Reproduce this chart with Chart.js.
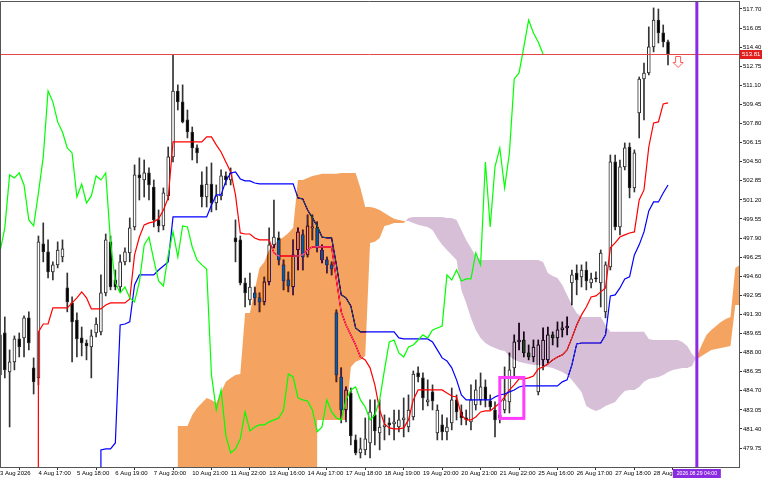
<!DOCTYPE html>
<html>
<head>
<meta charset="utf-8">
<script src="https://cdn.jsdelivr.net/npm/chart.js@4.4.1/dist/chart.umd.min.js"></script>
<style>
  html, body { margin: 0; padding: 0; background: #fff; }
  #wrap { width: 768px; height: 480px; }
</style>
</head>
<body>
<div id="wrap"><canvas id="chart" width="768" height="480"></canvas></div>
<script>
// H3 candles, bar index 0 = 3 Aug 2026
const open = [
  489.53, 489.70, 486.33, 487.20, 489.18, 489.27, 491.00, 486.68, 485.81, 497.39,
  496.70, 494.97, 495.58, 496.26, 493.59, 492.29, 490.82, 489.27, 488.83, 488.48,
  489.70, 489.79, 493.16, 497.57, 494.28, 493.67, 495.84, 496.61, 498.86, 503.36,
  502.92, 503.53, 502.31, 499.47, 498.95, 501.54, 504.91, 510.61, 509.67, 508.11,
  507.07, 505.69, 502.49, 501.45, 502.57, 500.93, 501.54, 503.27, 502.92, 497.91,
  497.74, 494.02, 492.55, 493.16, 492.73, 492.38, 494.11, 497.31, 497.91, 495.58,
  494.28, 493.67, 496.87, 498.17, 496.44, 498.78, 498.78, 496.87, 496.01, 495.58,
  491.43, 485.89, 483.04, 484.51, 480.45, 479.33, 479.59, 480.19, 482.61, 481.06,
  481.57, 481.92, 481.83, 481.57, 482.18, 481.57, 482.44, 486.24, 485.81, 483.74,
  484.60, 481.06, 481.75, 481.15, 481.92, 483.91, 482.87, 482.35, 482.01, 483.48,
  483.91, 485.03, 483.82, 483.04, 482.35, 483.04, 483.74, 486.68, 488.92, 489.09,
  487.97, 487.62, 484.60, 487.37, 487.37, 489.53, 489.27, 489.96, 490.13, 494.02,
  494.88, 494.53, 495.14, 494.02, 494.45, 494.02, 491.52, 495.40, 504.48, 498.86,
  504.05, 505.77, 502.23, 508.71, 511.65, 512.17, 514.42, 516.75, 515.63, 514.85
];
const high = [
  490.65, 491.08, 488.23, 489.44, 489.70, 491.17, 491.52, 487.54, 498.08, 499.21,
  497.74, 495.84, 497.57, 497.74, 494.88, 492.81, 491.43, 490.21, 489.09, 489.96,
  491.00, 494.71, 498.25, 498.08, 495.14, 496.44, 497.05, 499.64, 504.22, 504.83,
  504.65, 503.96, 502.92, 500.33, 502.23, 505.77, 513.73, 511.14, 511.14, 508.97,
  507.50, 505.95, 503.62, 504.05, 504.39, 502.49, 503.79, 503.62, 503.96, 499.47,
  498.08, 494.45, 494.88, 493.67, 493.16, 494.53, 498.78, 501.19, 498.43, 496.01,
  494.97, 497.74, 498.78, 498.60, 499.90, 499.90, 499.30, 497.31, 496.26, 495.84,
  491.69, 486.68, 485.03, 484.94, 480.88, 480.62, 482.35, 483.91, 483.91, 483.91,
  482.61, 482.35, 483.04, 483.04, 484.08, 484.34, 486.41, 486.76, 486.24, 485.64,
  485.21, 483.48, 482.61, 482.35, 484.94, 484.34, 483.48, 483.04, 485.21, 485.64,
  486.24, 485.64, 484.34, 483.74, 483.22, 486.76, 487.97, 489.53, 490.56, 489.79,
  488.66, 489.09, 489.09, 490.13, 490.21, 489.79, 490.65, 490.65, 491.08, 495.14,
  495.58, 495.58, 495.84, 494.88, 494.97, 496.87, 495.84, 505.08, 505.08, 504.65,
  506.12, 506.12, 505.52, 511.82, 513.03, 516.15, 517.79, 517.70, 516.32, 515.02
];
const low = [
  484.16, 485.81, 481.57, 486.50, 487.62, 487.62, 488.23, 484.42, 485.21, 495.84,
  494.45, 494.28, 495.32, 495.84, 491.52, 487.20, 487.62, 487.71, 487.37, 485.81,
  489.35, 489.53, 492.90, 493.42, 493.42, 493.25, 495.58, 495.84, 498.60, 501.19,
  501.45, 501.19, 498.86, 498.43, 498.60, 501.19, 504.48, 508.97, 507.85, 506.55,
  504.65, 504.39, 500.58, 500.58, 500.16, 500.33, 501.19, 502.49, 502.49, 495.84,
  493.85, 491.94, 492.12, 492.12, 491.52, 492.12, 493.85, 497.05, 495.58, 493.42,
  493.25, 492.99, 495.14, 495.14, 496.26, 497.74, 496.70, 495.75, 494.88, 494.71,
  485.47, 481.92, 482.01, 480.02, 479.16, 478.89, 479.16, 478.89, 480.02, 479.59,
  480.45, 480.88, 480.45, 481.15, 480.71, 481.15, 482.18, 485.47, 483.04, 483.39,
  483.04, 480.45, 480.45, 480.45, 481.32, 482.18, 481.75, 481.75, 481.32, 483.04,
  483.48, 483.30, 483.04, 480.71, 481.92, 482.78, 482.78, 485.89, 488.23, 487.62,
  487.37, 487.20, 484.34, 486.50, 487.11, 488.66, 488.48, 489.35, 489.53, 492.12,
  492.99, 493.67, 493.42, 493.59, 494.11, 491.94, 491.00, 495.14, 498.60, 498.17,
  503.79, 501.37, 501.88, 506.55, 508.11, 512.00, 513.99, 514.76, 514.42, 512.86
];
const close = [
  486.07, 486.50, 487.20, 489.18, 488.48, 491.00, 488.83, 485.47, 497.57, 496.70,
  494.97, 495.58, 496.87, 496.96, 492.38, 490.65, 489.18, 488.83, 488.57, 489.44,
  490.47, 493.16, 497.74, 493.67, 493.67, 495.84, 496.70, 498.78, 503.36, 503.10,
  503.53, 502.49, 499.47, 498.95, 501.80, 504.91, 510.61, 509.67, 507.94, 507.07,
  505.69, 505.26, 501.45, 502.57, 500.93, 501.54, 503.27, 502.92, 503.53, 497.57,
  494.02, 493.16, 493.67, 492.73, 492.38, 494.11, 497.31, 497.99, 496.01, 494.19,
  493.76, 496.44, 498.43, 496.26, 498.95, 498.86, 497.13, 496.01, 495.58, 495.23,
  486.07, 483.04, 484.77, 480.80, 479.33, 479.68, 480.54, 482.87, 481.23, 481.57,
  481.75, 481.75, 482.01, 482.18, 482.35, 483.04, 486.15, 485.89, 484.08, 483.91,
  483.82, 483.04, 481.15, 481.57, 483.91, 482.87, 482.35, 482.18, 483.91, 484.77,
  485.03, 483.91, 483.30, 482.18, 482.61, 483.91, 486.50, 488.92, 489.09, 487.97,
  487.62, 488.48, 488.66, 489.09, 489.53, 489.27, 489.96, 490.13, 490.30, 494.71,
  494.28, 495.14, 494.19, 494.37, 494.37, 496.61, 495.58, 504.48, 498.86, 504.05,
  505.69, 502.23, 505.26, 511.65, 512.17, 514.42, 516.75, 515.63, 514.85, 513.81
];

// Ichimoku lines (0 = indicator not formed yet)
const tenkanStart = 7;
const tenkan = [
  0, 489.79, 490.47, 490.47, 491.86, 491.86, 491.86, 491.86, 492.29, 492.73,
  493.25, 492.73, 491.78, 491.78, 491.78, 492.12, 492.29, 492.29, 492.29, 492.29,
  492.64, 496.44, 497.99, 499.04, 499.21, 499.30, 499.56, 500.33, 501.37, 506.21,
  506.21, 506.21, 506.21, 506.21, 506.21, 506.21, 506.64, 506.64, 505.95, 505.34,
  504.48, 503.62, 501.63, 498.34, 498.25, 498.25, 497.91, 497.74, 497.74, 497.74,
  496.61, 496.35, 496.35, 496.35, 496.35, 496.35, 496.44, 496.87, 497.13, 497.13,
  497.13, 497.13, 497.13, 494.28, 491.52, 490.39, 489.53, 488.66, 487.62, 487.37,
  486.68, 485.21, 483.04, 481.83, 481.49, 481.40, 481.40, 481.49, 482.18, 483.91,
  484.77, 484.77, 484.77, 484.77, 484.77, 484.77, 484.51, 484.25, 484.16, 482.61,
  482.18, 482.18, 482.44, 482.87, 482.96, 482.96, 483.30, 483.65, 484.16, 484.77,
  485.21, 485.72, 485.72, 485.81, 485.98, 486.59, 486.76, 487.02, 487.37, 487.62,
  487.80, 488.23, 489.27, 490.39, 491.26, 491.94, 492.81, 492.90, 493.25, 493.59,
  497.05, 497.48, 497.99, 498.17, 498.34, 498.43, 501.19, 502.06, 505.77, 507.85,
  507.94, 509.49, 509.58
];
const kijunStart = 20;
const kijun = [
  0, 479.59, 479.68, 479.68, 480.19, 490.39, 490.47, 490.65, 493.85, 494.71,
  494.71, 494.71, 494.71, 495.14, 495.49, 495.84, 499.73, 499.73, 499.73, 499.73,
  499.73, 499.73, 499.73, 499.73, 500.76, 501.63, 501.63, 502.84, 503.53, 503.62,
  503.01, 502.84, 502.84, 502.66, 502.58, 502.58, 502.58, 502.58, 502.58, 502.58,
  502.58, 502.58, 501.37, 501.28, 500.33, 499.64, 498.95, 497.99, 497.91, 497.91,
  495.58, 492.99, 492.73, 492.03, 490.13, 489.79, 489.79, 489.79, 489.79, 489.79,
  489.79, 489.79, 489.79, 489.27, 489.18, 489.18, 489.18, 489.18, 489.18, 489.18,
  488.92, 488.23, 487.54, 487.28, 486.68, 485.64, 484.34, 483.91, 483.91, 483.91,
  483.91, 483.91, 483.91, 484.16, 484.34, 484.42, 484.60, 484.77, 485.03, 485.12,
  485.12, 485.12, 485.12, 485.12, 485.12, 485.12, 485.12, 485.47, 485.64, 486.93,
  488.75, 488.83, 488.83, 488.83, 488.83, 488.83, 489.53, 492.90, 492.99, 493.59,
  494.37, 494.54, 496.44, 497.31, 498.43, 500.24, 501.02, 501.02, 501.80, 502.49
];
const chikouShift = 26;

// Senkou spans, already shifted forward by 26 bars
const cloudStart = 37;
const spanA = [
  481.66, 481.66, 481.66, 482.61, 483.22, 483.65, 484.08, 483.91, 483.65, 484.60,
  485.47, 485.81, 486.07, 486.15, 491.43, 491.43, 493.42, 495.32, 495.84, 496.87,
  497.31, 497.74, 497.99, 498.34, 498.78, 502.92, 502.92, 503.10, 503.27, 503.36,
  503.45, 503.45, 503.45, 503.45, 503.53, 503.53, 503.53, 503.53, 502.23, 500.58,
  500.58, 500.50, 500.33, 500.07, 499.81, 499.56, 499.47, 499.38, 499.38, 499.21,
  499.04, 498.95, 498.86, 498.60, 497.91, 497.31, 496.87, 496.44, 496.01, 493.42,
  492.29, 490.99, 489.96, 489.27, 488.83, 488.57, 488.40, 488.23, 488.14, 487.71,
  487.37, 487.20, 487.11, 487.02, 486.93, 486.93, 486.85, 486.76, 486.67, 486.50,
  486.33, 486.07, 485.64, 485.12, 484.60, 483.39, 483.13, 482.96, 483.13, 483.39,
  483.56, 483.73, 484.25, 484.69, 484.77, 484.77, 485.03, 485.47, 485.72, 485.81,
  485.89, 486.07, 486.33, 486.50, 486.59, 486.67, 486.67, 486.85, 487.71, 488.66,
  489.53, 489.96, 490.30, 490.65, 490.91, 491.08, 495.32, 495.58
];
const spanB = [
  0, 0, 0, 0, 0, 0, 0, 0, 0, 0,
  0, 0, 0, 0, 0, 0, 0, 0, 0, 0,
  0, 0, 0, 0, 0, 0, 0, 0, 0, 482.18,
  482.18, 482.18, 482.18, 482.18, 482.18, 482.18, 486.76, 487.20, 487.37, 487.71,
  497.48, 497.57, 497.91, 498.95, 499.04, 499.21, 499.21, 499.21, 499.64, 499.73,
  499.73, 499.73, 499.73, 499.73, 499.73, 499.73, 499.64, 499.64, 499.47, 498.60,
  497.74, 497.05, 496.35, 496.01, 496.01, 496.01, 496.01, 496.01, 496.01, 496.01,
  496.01, 496.01, 496.01, 496.01, 496.01, 496.01, 495.84, 494.88, 494.63, 494.45,
  493.85, 492.98, 492.12, 491.43, 491.08, 491.08, 491.08, 491.08, 491.08, 490.39,
  489.79, 489.79, 489.79, 489.79, 489.79, 489.79, 489.79, 489.79, 489.18, 489.09,
  489.09, 489.09, 489.09, 489.09, 489.09, 488.92, 488.57, 487.88, 487.45, 487.71,
  487.97, 488.23, 488.31, 488.40, 488.49, 488.57, 492.12, 492.12
];

// axes
const yTicks = [479.75, 481.40, 483.05, 484.70, 486.35, 488.00, 489.65, 491.30, 492.95, 494.60,
  496.25, 497.90, 499.55, 501.20, 502.85, 504.50, 506.15, 507.80, 509.45, 511.10,
  512.75, 514.40, 516.05, 517.70];
const timeTicks = [0, 8, 16, 24, 32, 40, 48, 56, 64, 72, 80, 88, 96, 104, 112, 120, 128, 136];
const timeLabels = ["3 Aug 2026", "4 Aug 17:00", "5 Aug 18:00", "6 Aug 19:00", "7 Aug 20:00",
  "10 Aug 21:00", "11 Aug 22:00", "13 Aug 16:00", "14 Aug 17:00", "17 Aug 18:00",
  "18 Aug 19:00", "19 Aug 20:00", "20 Aug 21:00", "21 Aug 22:00", "25 Aug 16:00",
  "26 Aug 17:00", "27 Aug 18:00", "28 Aug 19:00"];

// chart objects
const bid = 513.81;
const vlineBar = 145;
const vlineLabel = "2026.08.29 04:00";
const boxBars = [104, 109];
const boxPrices = [485.85, 482.31];
const arrowBar = 141;
const arrowPrice = 513.65;

const FONT = "'Liberation Sans', Arial, sans-serif";

const bars = close.map((_, i) => i);
const wickData = bars.map(i => ({x: i, y: [low[i], high[i]]}));
const bodyData = bars.map(i => ({x: i, y: [open[i], close[i]]}));
const bodyFill = bars.map(i => close[i] >= open[i] ? "#ffffff" : "#000000");
const tenkanData = tenkan.map((v, i) => ({x: tenkanStart + i, y: v}));
const kijunData = kijun.map((v, i) => ({x: kijunStart + i, y: v}));
const chikouData = close.slice(chikouShift).map((v, i) => ({x: i, y: v}));

// the cloud is painted like MT5 does it: inverted colour, difference blend
function drawCloud(chart) {
  const {ctx, chartArea: a, scales: {x, y}} = chart;
  const up = new Path2D(), dn = new Path2D();
  const quad = (p, b0, a0, c0, b1, a1, c1) => {
    p.moveTo(x.getPixelForValue(b0), y.getPixelForValue(a0));
    p.lineTo(x.getPixelForValue(b1), y.getPixelForValue(a1));
    p.lineTo(x.getPixelForValue(b1), y.getPixelForValue(c1));
    p.lineTo(x.getPixelForValue(b0), y.getPixelForValue(c0));
    p.closePath();
  };
  for (let i = 0; i < spanA.length - 1; i++) {
    const b0 = cloudStart + i, b1 = b0 + 1;
    const a0 = spanA[i], a1 = spanA[i + 1], c0 = spanB[i], c1 = spanB[i + 1];
    const d0 = a0 - c0, d1 = a1 - c1;
    if (d0 * d1 < 0) {
      const t = d0 / (d0 - d1);
      const bm = b0 + t, m = a0 + t * (a1 - a0);
      quad(d0 > 0 ? up : dn, b0, a0, c0, bm, m, m);
      quad(d1 > 0 ? up : dn, bm, m, m, b1, a1, c1);
    } else {
      quad(d0 + d1 >= 0 ? up : dn, b0, a0, c0, b1, a1, c1);
    }
  }
  ctx.save();
  ctx.beginPath();
  ctx.rect(a.left, a.top, a.width, a.height);
  ctx.clip();
  ctx.globalCompositeOperation = "difference";
  ctx.fillStyle = "rgb(11,91,159)";   // 255 - SandyBrown
  ctx.fill(up);
  ctx.fillStyle = "rgb(39,64,39)";    // 255 - Thistle
  ctx.fill(dn);
  ctx.restore();
}

const overlay = {
  id: "overlay",
  beforeDraw(chart) {
    // opaque white canvas so the difference blend has something to work on
    const ctx = chart.ctx;
    ctx.save();
    ctx.fillStyle = "#ffffff";
    ctx.fillRect(0, 0, chart.width, chart.height);
    ctx.restore();
  },
  afterDatasetDraw(chart, args) {
    if (chart.data.datasets[args.index].label === "Kijun-sen") drawCloud(chart);
  },
  afterDatasetsDraw(chart) {
    const {ctx, chartArea: a, scales: {x, y}} = chart;
    ctx.save();
    ctx.beginPath();
    ctx.rect(a.left, a.top, a.width, a.height);
    ctx.clip();
    // bid line
    const yb = Math.round(y.getPixelForValue(bid)) + 0.5;
    ctx.strokeStyle = "#e64646";
    ctx.lineWidth = 1;
    ctx.beginPath(); ctx.moveTo(a.left, yb); ctx.lineTo(a.right, yb); ctx.stroke();
    // rectangle
    const rx0 = x.getPixelForValue(boxBars[0]), rx1 = x.getPixelForValue(boxBars[1]);
    const ry0 = y.getPixelForValue(boxPrices[0]), ry1 = y.getPixelForValue(boxPrices[1]);
    ctx.strokeStyle = "#ff3dff";
    ctx.lineWidth = 3;
    ctx.strokeRect(rx0, ry0, rx1 - rx0, ry1 - ry0);
    // vertical line
    const vx = x.getPixelForValue(vlineBar);
    ctx.strokeStyle = "#8a2be2";
    ctx.lineWidth = 3;
    ctx.beginPath(); ctx.moveTo(vx, a.top); ctx.lineTo(vx, a.bottom); ctx.stroke();
    // sell arrow
    const ax = x.getPixelForValue(arrowBar) + 0.5, ay = Math.round(y.getPixelForValue(arrowPrice)) + 0.5;
    ctx.beginPath();
    ctx.moveTo(ax - 2.5, ay); ctx.lineTo(ax + 2.5, ay); ctx.lineTo(ax + 2.5, ay + 6);
    ctx.lineTo(ax + 5, ay + 6); ctx.lineTo(ax, ay + 11); ctx.lineTo(ax - 5, ay + 6);
    ctx.lineTo(ax - 2.5, ay + 6); ctx.closePath();
    ctx.fillStyle = "#ffffff"; ctx.fill();
    ctx.strokeStyle = "#ff5a5a"; ctx.lineWidth = 1; ctx.stroke();
    ctx.restore();
  },
  afterDraw(chart) {
    const {ctx, chartArea: a, scales: {x, y}} = chart;
    ctx.save();
    // frame top / left
    ctx.strokeStyle = "#555";
    ctx.lineWidth = 1;
    ctx.beginPath();
    ctx.moveTo(a.left + 0.5, a.bottom); ctx.lineTo(a.left + 0.5, a.top + 0.5); ctx.lineTo(a.right, a.top + 0.5);
    ctx.stroke();
    ctx.textBaseline = "middle";
    // bid tag
    const yb = Math.round(y.getPixelForValue(bid));
    ctx.fillStyle = "#e31e1e";
    ctx.fillRect(a.right + 1, yb - 4, 22, 9);
    ctx.fillStyle = "#fff";
    ctx.textAlign = "left";
    ctx.font = "6px " + FONT;
    ctx.fillText(bid.toFixed(2), a.right + 3, yb + 0.5);
    // time tag
    const vx = x.getPixelForValue(vlineBar);
    ctx.fillStyle = "#8a2be2";
    ctx.fillRect(vx - 24, a.bottom + 2, 48, 9);
    ctx.fillStyle = "#fff";
    ctx.textAlign = "center";
    ctx.font = "5.2px " + FONT;
    ctx.fillText(vlineLabel, vx, a.bottom + 6.5);
    ctx.restore();
  }
};

new Chart(document.getElementById("chart"), {
  type: "line",
  data: {
    datasets: [
      { type: "bar", label: "Wicks", data: wickData, backgroundColor: "#333", borderWidth: 0,
        barThickness: 1, grouped: false, order: 6 },
      { type: "bar", label: "Candles", data: bodyData, backgroundColor: bodyFill, borderColor: "#2a2a2a",
        borderWidth: 1, borderSkipped: false, barThickness: 3, minBarLength: 1, grouped: false, order: 5 },
      { label: "Tenkan-sen", data: tenkanData, borderColor: "#ff0000", borderWidth: 1.2, order: 4 },
      { label: "Kijun-sen", data: kijunData, borderColor: "#0000ff", borderWidth: 1.2, order: 3 },
      { label: "Chikou Span", data: chikouData, borderColor: "#00ff00", borderWidth: 1.2, order: 1 }
    ]
  },
  options: {
    responsive: false,
    animation: false,
    devicePixelRatio: 1,
    layout: { padding: { top: 1 } },
    elements: { point: { radius: 0 }, line: { tension: 0 } },
    plugins: { legend: { display: false }, tooltip: { enabled: false } },
    scales: {
      x: {
        type: "linear", min: 0, max: 153.77, offset: false,
        afterBuildTicks: s => { s.ticks = timeTicks.map(v => ({value: v})); },
        afterFit: s => { s.height = 13; s.paddingLeft = 0; s.paddingRight = 0; },
        grid: { drawOnChartArea: false, tickLength: 3, color: "#333" },
        border: { color: "#555" },
        ticks: { autoSkip: false, maxRotation: 0, minRotation: 0, align: "start", padding: 0,
          color: "#000", font: { family: FONT, size: 6 },
          callback: (v, i) => timeLabels[i] }
      },
      y: {
        type: "linear", position: "right", min: 478.11, max: 518.39,
        afterBuildTicks: s => { s.ticks = yTicks.map(v => ({value: v})); },
        afterFit: s => { s.width = 29; s.paddingTop = 0; s.paddingBottom = 0; },
        grid: { drawOnChartArea: false, tickLength: 3, color: "#333" },
        border: { color: "#555" },
        ticks: { autoSkip: false, padding: 1, color: "#000", font: { family: FONT, size: 6 },
          callback: v => v.toFixed(2) }
      }
    }
  },
  plugins: [overlay]
});
</script>
</body>
</html>
